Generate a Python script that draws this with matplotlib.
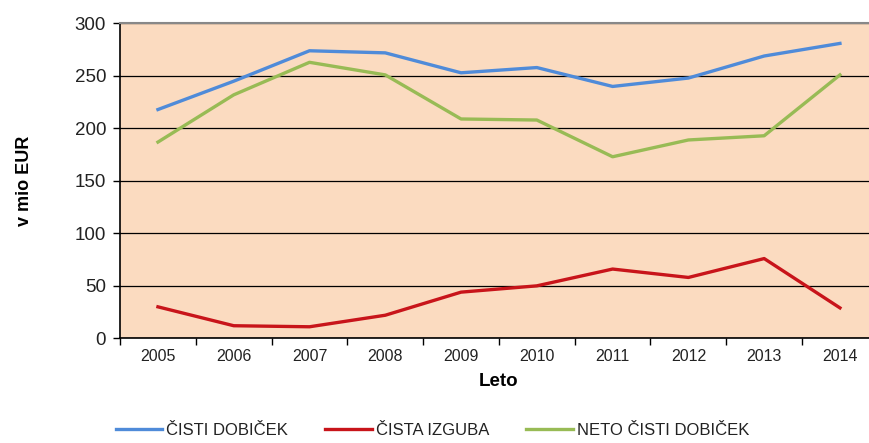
import numpy as np
import matplotlib.pyplot as plt

plt.rcParams['font.family'] = ['Liberation Sans', 'DejaVu Sans']

years = ["2005", "2006", "2007", "2008", "2009", "2010", "2011", "2012", "2013", "2014"]
cisti_dobicek = [218, 245, 274, 272, 253, 258, 240, 248, 269, 281]
cista_izguba = [30, 12, 11, 22, 44, 50, 66, 58, 76, 29]
neto_dobicek = [187, 232, 263, 251, 209, 208, 173, 189, 193, 251]

fig = plt.figure(figsize=(8.7, 4.43), dpi=100)
ax = fig.add_axes([0.138, 0.2363, 0.871, 0.7107])
ax.set_facecolor('#FBDBC0')

x = np.arange(len(years))
l1, = ax.plot(x, cisti_dobicek, color='#4F8BD9', lw=2.4, label='ČISTI DOBIČEK')
l2, = ax.plot(x, cista_izguba, color='#C8141A', lw=2.4, label='ČISTA IZGUBA')
l3, = ax.plot(x, neto_dobicek, color='#98BB55', lw=2.4, label='NETO ČISTI DOBIČEK')

ax.set_xlim(-0.5, len(years) - 0.5)
ax.set_ylim(0, 300)
ax.set_yticks(range(0, 301, 50))
ax.yaxis.grid(True, color='black', lw=0.9)
ax.set_axisbelow(True)

ax.set_xticks(x)
ax.set_xticklabels(years, fontsize=11.5, color='#222222')
ax.set_xticks(np.arange(-0.5, len(years), 1), minor=True)
ax.tick_params(axis='x', which='major', length=0, pad=8)
ax.tick_params(axis='x', which='minor', length=5, width=1)
ax.tick_params(axis='y', labelsize=13.5, labelcolor='#222222', length=5, width=1, pad=5)

for s in ['top', 'right']:
    ax.spines[s].set_color('#888888')
    ax.spines[s].set_linewidth(1.5)
for s in ['left', 'bottom']:
    ax.spines[s].set_color('black')
    ax.spines[s].set_linewidth(1.2)

ax.set_xlabel('Leto', fontsize=13.5, fontweight='bold', labelpad=6)
ax.set_ylabel('v mio EUR', fontsize=13, fontweight='bold', labelpad=30)

fig.legend(handles=[l1, l2, l3], loc='lower center', bbox_to_anchor=(0.497, -0.022),
           ncol=3, frameon=False, fontsize=12, handlelength=2.8, handletextpad=0.25,
           columnspacing=2.2, labelcolor='#222222')

fig.savefig('out.png', dpi=100)
